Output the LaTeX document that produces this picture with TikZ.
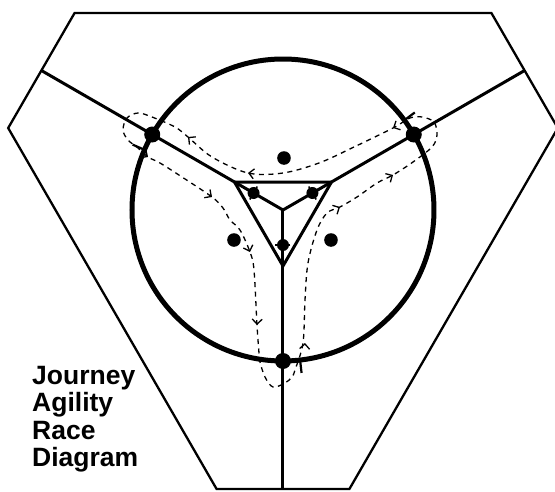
\documentclass[tikz,border=0pt]{standalone}
\usepackage{fontspec}
\setsansfont{Liberation Sans}
\usepackage{tikz}
\usetikzlibrary{calc,arrows.meta}

\begin{document}
\begin{tikzpicture}[x=1pt,y=1pt]
    \useasboundingbox (-283,-281) rectangle (272,210);
    \coordinate (O) at (0,0);
    % ring outline (truncated triangle)
    \draw[line width=2.3pt, line join=miter] (43.39:286.8) -- (136.61:286.8) -- (163.39:286.8) -- (256.61:286.8) -- (283.39:286.8) -- (16.61:286.8) -- cycle;

    \coordinate (A) at (150:151); \coordinate (B) at (30:151); \coordinate (C) at (270:151);
    \coordinate (Aout) at (150:279); \coordinate (Bout) at (30:279); \coordinate (Cout) at (270:279);
    \coordinate (Ain) at (150:56); \coordinate (Bin) at (30:56); \coordinate (Cin) at (270:56);

    \foreach \p in {Aout, Bout, Cout} {
        \draw[line width=3pt] (O) -- (\p);
    }
    \draw[line width=3pt, line join=miter] (Ain) -- (Bin) -- (Cin) -- cycle;
    \draw[line width=5pt] (O) circle (151);

    % dog path
    \draw[line width=1.3pt, dash pattern=on 5pt off 4.5pt]
        plot[smooth cycle, tension=0.55] coordinates {(110,82) (71,63) (36,47) (0,37) (-35,37) (-71,53) (-95,73) (-108,83) (-131,93) (-145,97) (-156,92) (-160,80) (-155,70) (-145,62) (-135,53) (-123,47) (-101,33) (-71,13) (-60,2) (-53,-10) (-43,-20) (-33,-42) (-29,-60) (-26,-115) (-24,-143) (-23,-152) (-18,-167) (-10,-177) (2,-173) (9,-167) (12,-160) (20,-133) (22,-90) (25,-53) (34,-20) (44,-3) (57,3) (74,13) (94,27) (110,35) (130,48) (149,63) (154,75) (151,88) (139,93) (127,92)};
    % direction of travel
    \foreach \x/\y/\d in {110/82/207, -35/37/172, -95/73/141, -135/53/326, -71/13/325, -33/-42/289, -26/-115/268, 22/-133/86, 57/3/28, 110/35/30} {
        \draw[line width=1.3pt, -{Straight Barb[length=5pt,width=10pt]}] ($(\x,\y)+(\d+180:1)$) -- (\x,\y);
    }

    % start ticks
    \foreach \a in {156.5, 36.5, 276.5} {
        \draw[line width=2.2pt] (\a:152) -- (\a:164);
    }
    % jumps on the inner spokes
    \foreach \a/\r in {150/34, 30/34, 270/35} {
        \draw[line width=1.5pt] ($(\a:\r)+(\a+90:7.5)$) -- ($(\a:\r)+(\a-90:7.5)$);
        \fill (\a:\r) circle (6);
    }
    % obstacles
    \foreach \q in {(1,52), (-49,-30), (48,-30)} {
        \fill \q circle (6.8);
    }
    \foreach \p in {A, B, C} {
        \fill (\p) circle (8);
    }

    \node[anchor=north west, inner sep=0, align=left, font=\sffamily\bfseries\fontsize{26.5}{27.5}\selectfont] (title) at (-251,-156) {Journey\\Agility\\Race\\Diagram};
\end{tikzpicture}
\end{document}
